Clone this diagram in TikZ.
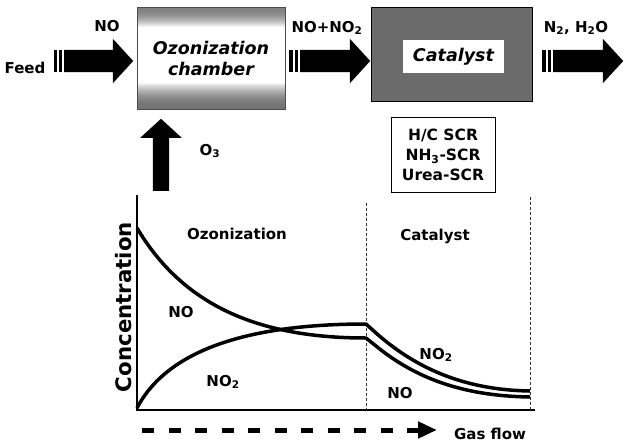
\documentclass[tikz,border=0pt]{standalone}
\usepackage{fontspec}
\setmainfont{DejaVu Sans}
\usetikzlibrary{shapes.arrows,arrows.meta,positioning}

\begin{document}
\begin{tikzpicture}[x=1pt, y=-1pt,
    % Define styles
    lbl/.style={font=\fontsize{15}{18}\selectfont\bfseries, inner sep=0pt},
    boxlbl/.style={font=\fontsize{17.5}{21}\selectfont\bfseries\itshape, align=center, inner sep=0pt},
    fatarrow/.style={single arrow, fill=black, inner xsep=0pt, inner ysep=11pt, single arrow head extend=11pt, single arrow tip angle=95, anchor=tail},
    stripe/.style={fill=black},
    curve/.style={line width=3.5pt, line join=round},
    sep/.style={black!80, line width=0.7pt, dash pattern=on 3pt off 2pt}
]
\useasboundingbox (0,0) rectangle (627,445);

% Reactor boxes
\node[draw=black!70, line width=1pt, minimum width=148pt, minimum height=102pt, boxlbl,
    path picture={
        \foreach \i in {0,...,19}{
            \pgfmathsetmacro\shadepct{50*(1-(\i/20)^2)}
            \fill[black!\shadepct] ([yshift=-\i pt]path picture bounding box.north west) rectangle ([yshift=-\i pt-1.3pt]path picture bounding box.north east);
        }
        \foreach \i in {0,...,25}{
            \pgfmathsetmacro\shadepct{55*(1-(\i/26)^2)}
            \fill[black!\shadepct] ([yshift=\i pt]path picture bounding box.south west) rectangle ([yshift=\i pt+1.3pt]path picture bounding box.south east);
        }
    }] (ozon) at (211,58) {Ozonization\\chamber};
\node[draw=black, line width=1pt, fill=black!58, minimum width=161pt, minimum height=94pt] (cat) at (451.5,54) {};
\node[fill=white, minimum width=101pt, minimum height=33pt, boxlbl] (catlbl) at (453.5,56.5) {Catalyst};
\node[draw=black, line width=0.8pt, minimum width=104pt, minimum height=75pt, align=center,
    font=\fontsize{15.5}{20}\selectfont\bfseries] (scr) at (443,154.5) {H/C SCR\\NH\textsubscript{3}-SCR\\Urea-SCR};

% Flow arrows
\fill[stripe] (54,50) rectangle (57,72);
\fill[stripe] (59,50) rectangle (62,72);
\node[fatarrow, minimum height=69pt] (feedarr) at (64,61) {};
\fill[stripe] (289,50) rectangle (292.5,72);
\fill[stripe] (294.5,50) rectangle (298,72);
\node[fatarrow, minimum height=70pt] (midarr) at (300,61) {};
\fill[stripe] (542,50) rectangle (545.5,72);
\fill[stripe] (547.5,50) rectangle (551,72);
\node[fatarrow, minimum height=70pt] (outarr) at (553,61) {};
\node[fatarrow, inner xsep=8pt, inner ysep=0pt, single arrow head extend=12.5pt, minimum height=72pt, shape border rotate=90] (o3arr) at (161,191) {};

% Flow labels
\node[lbl] (feed) at (25,68) {Feed};
\node[lbl] (no) at (107,26) {NO};
\node[lbl] (nono2) at (327,28) {NO+NO\textsubscript{2}};
\node[lbl] (prod) at (576,28) {N\textsubscript{2}, H\textsubscript{2}O};
\node[lbl] (o3) at (210,151) {O\textsubscript{3}};

% Axes
\coordinate (origin) at (137,410);
\coordinate (ytop) at (137,195);
\coordinate (xend) at (535,410);
\draw[line width=1.3pt] (ytop) -- (origin) -- (xend);
\draw[sep] (366,203) -- (366,410);
\draw[sep] (530,197) -- (530,410);
\node[lbl, font=\fontsize{21.3}{24}\selectfont\bfseries, rotate=90] (conc) at (124,307) {Concentration};
\node[lbl] (ozlbl) at (237,234) {Ozonization};
\node[lbl] (catzone) at (435,236) {Catalyst};

% Concentration curves
\draw[curve] (137,228) .. controls (180,300) and (250,338) .. (366,338)
    -- (376,346) .. controls (420,382) and (470,396) .. (530,397);
\draw[curve] (137,408) .. controls (170,345) and (260,324) .. (366,324)
    -- (376,333) .. controls (420,372) and (470,390) .. (530,391);
\node[lbl] (nolbl) at (181,312) {NO};
\node[lbl] (no2lbl) at (223,382) {NO\textsubscript{2}};
\node[lbl] (catno2) at (436,355) {NO\textsubscript{2}};
\node[lbl] (catno) at (400,393) {NO};

% Gas flow
\coordinate (flowstart) at (142,430);
\coordinate (flowend) at (437,430);
\draw[line width=5pt, dash pattern=on 12pt off 14.5pt, -{Triangle[length=19pt, width=16pt]}] (flowstart) -- (flowend);
\node[lbl] (gasflow) at (490,434) {Gas flow};

\end{tikzpicture}
\end{document}
